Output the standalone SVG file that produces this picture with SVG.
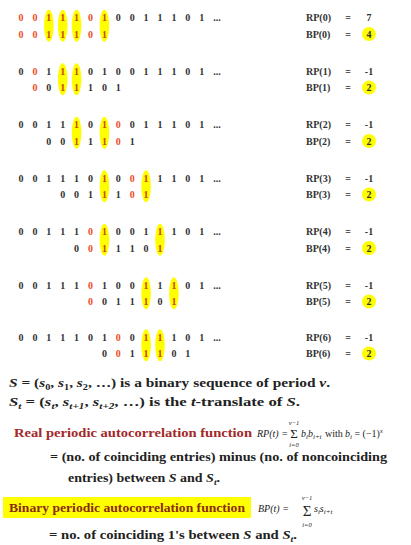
<svg xmlns="http://www.w3.org/2000/svg" width="411" height="545" viewBox="0 0 411 545">
<style>
text{font-family:"Liberation Serif","Times New Roman",serif}
.d{font-weight:bold;font-size:10px;text-anchor:middle;fill:#333}
.r{fill:#ee4b2b}
.y{fill:#cc4400}
.hl{fill:#ffff00}
.lb{font-weight:bold;font-size:10px;fill:#333}
.eq{font-weight:bold;font-size:10px;fill:#333;text-anchor:middle}
.t{font-weight:bold;font-size:13.5px;fill:#222}
.i{font-style:italic}
.sb{font-size:9px}
.f{font-style:italic;font-size:10px;fill:#222}
.fs{font-style:italic;font-size:6.5px;fill:#222;text-anchor:middle}
.sig{font-size:15px;fill:#222;text-anchor:middle}
</style>
<rect width="411" height="545" fill="#fff"/>

<g id="row0">
<ellipse class="hl" cx="48.8" cy="25.75" rx="4.8" ry="16"/><ellipse class="hl" cx="62.7" cy="25.75" rx="4.8" ry="16"/><ellipse class="hl" cx="76.6" cy="25.75" rx="4.8" ry="16"/><ellipse class="hl" cx="104.4" cy="25.75" rx="4.8" ry="16"/>
<text class="d" y="21"><tspan x="21" class="r">0</tspan><tspan x="34.9" class="r">0</tspan><tspan x="48.8" class="y">1</tspan><tspan x="62.7" class="y">1</tspan><tspan x="76.6" class="y">1</tspan><tspan x="90.5" class="r">0</tspan><tspan x="104.4" class="y">1</tspan><tspan x="118.3">0</tspan><tspan x="132.2">0</tspan><tspan x="146.1">1</tspan><tspan x="160">1</tspan><tspan x="173.9">1</tspan><tspan x="187.8">0</tspan><tspan x="201.7">1</tspan><tspan x="217">...</tspan></text>
<text class="d" y="37.5"><tspan x="21" class="r">0</tspan><tspan x="34.9" class="r">0</tspan><tspan x="48.8" class="y">1</tspan><tspan x="62.7" class="y">1</tspan><tspan x="76.6" class="y">1</tspan><tspan x="90.5" class="r">0</tspan><tspan x="104.4" class="y">1</tspan></text>
<text class="lb" x="306" y="21">RP(0)</text><text class="eq" x="348" y="21">=</text><text class="eq" x="369" y="21">7</text>
<circle class="hl" cx="369" cy="34" r="7"/>
<text class="lb" x="306" y="37.5">BP(0)</text><text class="eq" x="348" y="37.5">=</text><text class="eq" x="369" y="37.5">4</text>
</g>

<g id="row1">
<ellipse class="hl" cx="62.7" cy="79.25" rx="4.8" ry="16"/><ellipse class="hl" cx="76.6" cy="79.25" rx="4.8" ry="16"/>
<text class="d" y="74.5"><tspan x="21">0</tspan><tspan x="34.9" class="r">0</tspan><tspan x="48.8">1</tspan><tspan x="62.7" class="y">1</tspan><tspan x="76.6" class="y">1</tspan><tspan x="90.5">0</tspan><tspan x="104.4">1</tspan><tspan x="118.3">0</tspan><tspan x="132.2">0</tspan><tspan x="146.1">1</tspan><tspan x="160">1</tspan><tspan x="173.9">1</tspan><tspan x="187.8">0</tspan><tspan x="201.7">1</tspan><tspan x="217">...</tspan></text>
<text class="d" y="91"><tspan x="34.9" class="r">0</tspan><tspan x="48.8">0</tspan><tspan x="62.7" class="y">1</tspan><tspan x="76.6" class="y">1</tspan><tspan x="90.5">1</tspan><tspan x="104.4">0</tspan><tspan x="118.3">1</tspan></text>
<text class="lb" x="306" y="74.5">RP(1)</text><text class="eq" x="348" y="74.5">=</text><text class="eq" x="369" y="74.5">-1</text>
<circle class="hl" cx="369" cy="87.5" r="7"/>
<text class="lb" x="306" y="91">BP(1)</text><text class="eq" x="348" y="91">=</text><text class="eq" x="369" y="91">2</text>
</g>

<g id="row2">
<ellipse class="hl" cx="76.6" cy="132.75" rx="4.8" ry="16"/><ellipse class="hl" cx="104.4" cy="132.75" rx="4.8" ry="16"/>
<text class="d" y="128"><tspan x="21">0</tspan><tspan x="34.9">0</tspan><tspan x="48.8">1</tspan><tspan x="62.7">1</tspan><tspan x="76.6" class="y">1</tspan><tspan x="90.5">0</tspan><tspan x="104.4" class="y">1</tspan><tspan x="118.3" class="r">0</tspan><tspan x="132.2">0</tspan><tspan x="146.1">1</tspan><tspan x="160">1</tspan><tspan x="173.9">1</tspan><tspan x="187.8">0</tspan><tspan x="201.7">1</tspan><tspan x="217">...</tspan></text>
<text class="d" y="144.5"><tspan x="48.8">0</tspan><tspan x="62.7">0</tspan><tspan x="76.6" class="y">1</tspan><tspan x="90.5">1</tspan><tspan x="104.4" class="y">1</tspan><tspan x="118.3" class="r">0</tspan><tspan x="132.2">1</tspan></text>
<text class="lb" x="306" y="128">RP(2)</text><text class="eq" x="348" y="128">=</text><text class="eq" x="369" y="128">-1</text>
<circle class="hl" cx="369" cy="141" r="7"/>
<text class="lb" x="306" y="144.5">BP(2)</text><text class="eq" x="348" y="144.5">=</text><text class="eq" x="369" y="144.5">2</text>
</g>

<g id="row3">
<ellipse class="hl" cx="104.4" cy="186.25" rx="4.8" ry="16"/><ellipse class="hl" cx="146.1" cy="186.25" rx="4.8" ry="16"/>
<text class="d" y="181.5"><tspan x="21">0</tspan><tspan x="34.9">0</tspan><tspan x="48.8">1</tspan><tspan x="62.7">1</tspan><tspan x="76.6">1</tspan><tspan x="90.5">0</tspan><tspan x="104.4" class="y">1</tspan><tspan x="118.3">0</tspan><tspan x="132.2" class="r">0</tspan><tspan x="146.1" class="y">1</tspan><tspan x="160">1</tspan><tspan x="173.9">1</tspan><tspan x="187.8">0</tspan><tspan x="201.7">1</tspan><tspan x="217">...</tspan></text>
<text class="d" y="198"><tspan x="62.7">0</tspan><tspan x="76.6">0</tspan><tspan x="90.5">1</tspan><tspan x="104.4" class="y">1</tspan><tspan x="118.3">1</tspan><tspan x="132.2" class="r">0</tspan><tspan x="146.1" class="y">1</tspan></text>
<text class="lb" x="306" y="181.5">RP(3)</text><text class="eq" x="348" y="181.5">=</text><text class="eq" x="369" y="181.5">-1</text>
<circle class="hl" cx="369" cy="194.5" r="7"/>
<text class="lb" x="306" y="198">BP(3)</text><text class="eq" x="348" y="198">=</text><text class="eq" x="369" y="198">2</text>
</g>

<g id="row4">
<ellipse class="hl" cx="104.4" cy="239.75" rx="4.8" ry="16"/><ellipse class="hl" cx="160" cy="239.75" rx="4.8" ry="16"/>
<text class="d" y="235"><tspan x="21">0</tspan><tspan x="34.9">0</tspan><tspan x="48.8">1</tspan><tspan x="62.7">1</tspan><tspan x="76.6">1</tspan><tspan x="90.5" class="r">0</tspan><tspan x="104.4" class="y">1</tspan><tspan x="118.3">0</tspan><tspan x="132.2">0</tspan><tspan x="146.1">1</tspan><tspan x="160" class="y">1</tspan><tspan x="173.9">1</tspan><tspan x="187.8">0</tspan><tspan x="201.7">1</tspan><tspan x="217">...</tspan></text>
<text class="d" y="251.5"><tspan x="76.6">0</tspan><tspan x="90.5" class="r">0</tspan><tspan x="104.4" class="y">1</tspan><tspan x="118.3">1</tspan><tspan x="132.2">1</tspan><tspan x="146.1">0</tspan><tspan x="160" class="y">1</tspan></text>
<text class="lb" x="306" y="235">RP(4)</text><text class="eq" x="348" y="235">=</text><text class="eq" x="369" y="235">-1</text>
<circle class="hl" cx="369" cy="248" r="7"/>
<text class="lb" x="306" y="251.5">BP(4)</text><text class="eq" x="348" y="251.5">=</text><text class="eq" x="369" y="251.5">2</text>
</g>

<g id="row5">
<ellipse class="hl" cx="146.1" cy="293.25" rx="4.8" ry="16"/><ellipse class="hl" cx="173.9" cy="293.25" rx="4.8" ry="16"/>
<text class="d" y="288.5"><tspan x="21">0</tspan><tspan x="34.9">0</tspan><tspan x="48.8">1</tspan><tspan x="62.7">1</tspan><tspan x="76.6">1</tspan><tspan x="90.5" class="r">0</tspan><tspan x="104.4">1</tspan><tspan x="118.3">0</tspan><tspan x="132.2">0</tspan><tspan x="146.1" class="y">1</tspan><tspan x="160">1</tspan><tspan x="173.9" class="y">1</tspan><tspan x="187.8">0</tspan><tspan x="201.7">1</tspan><tspan x="217">...</tspan></text>
<text class="d" y="305"><tspan x="90.5" class="r">0</tspan><tspan x="104.4">0</tspan><tspan x="118.3">1</tspan><tspan x="132.2">1</tspan><tspan x="146.1" class="y">1</tspan><tspan x="160">0</tspan><tspan x="173.9" class="y">1</tspan></text>
<text class="lb" x="306" y="288.5">RP(5)</text><text class="eq" x="348" y="288.5">=</text><text class="eq" x="369" y="288.5">-1</text>
<circle class="hl" cx="369" cy="301.5" r="7"/>
<text class="lb" x="306" y="305">BP(5)</text><text class="eq" x="348" y="305">=</text><text class="eq" x="369" y="305">2</text>
</g>

<g id="row6">
<ellipse class="hl" cx="146.1" cy="345.25" rx="4.8" ry="16"/><ellipse class="hl" cx="160" cy="345.25" rx="4.8" ry="16"/>
<text class="d" y="340.5"><tspan x="21">0</tspan><tspan x="34.9">0</tspan><tspan x="48.8">1</tspan><tspan x="62.7">1</tspan><tspan x="76.6">1</tspan><tspan x="90.5">0</tspan><tspan x="104.4">1</tspan><tspan x="118.3" class="r">0</tspan><tspan x="132.2">0</tspan><tspan x="146.1" class="y">1</tspan><tspan x="160" class="y">1</tspan><tspan x="173.9">1</tspan><tspan x="187.8">0</tspan><tspan x="201.7">1</tspan><tspan x="217">...</tspan></text>
<text class="d" y="357"><tspan x="104.4">0</tspan><tspan x="118.3" class="r">0</tspan><tspan x="132.2">1</tspan><tspan x="146.1" class="y">1</tspan><tspan x="160" class="y">1</tspan><tspan x="173.9">0</tspan><tspan x="187.8">1</tspan></text>
<text class="lb" x="306" y="340.5">RP(6)</text><text class="eq" x="348" y="340.5">=</text><text class="eq" x="369" y="340.5">-1</text>
<circle class="hl" cx="369" cy="353.5" r="7"/>
<text class="lb" x="306" y="357">BP(6)</text><text class="eq" x="348" y="357">=</text><text class="eq" x="369" y="357">2</text>
</g>

<g id="definitions">
<text class="t" x="9" y="387" textLength="321" lengthAdjust="spacingAndGlyphs"><tspan class="i">S</tspan> = (<tspan class="i">s</tspan><tspan class="sb" dy="3">0</tspan><tspan dy="-3">, </tspan><tspan class="i">s</tspan><tspan class="sb" dy="3">1</tspan><tspan dy="-3">, </tspan><tspan class="i">s</tspan><tspan class="sb" dy="3">2</tspan><tspan dy="-3">, …) is a binary sequence of period </tspan><tspan class="i">v</tspan>.</text>
<text class="t" x="9" y="406" textLength="291" lengthAdjust="spacingAndGlyphs"><tspan class="i">S</tspan><tspan class="sb i" dy="3">t</tspan><tspan dy="-3"> = (</tspan><tspan class="i">s</tspan><tspan class="sb i" dy="3">t</tspan><tspan dy="-3">, </tspan><tspan class="i">s</tspan><tspan class="sb i" dy="3">t+1</tspan><tspan dy="-3">, </tspan><tspan class="i">s</tspan><tspan class="sb i" dy="3">t+2</tspan><tspan dy="-3">, …) is the </tspan><tspan class="i">t</tspan>-translate of <tspan class="i">S</tspan>.</text>
</g>

<g id="real-func">
<text class="t" x="14" y="437" style="fill:#a3282a" textLength="238" lengthAdjust="spacingAndGlyphs">Real periodic autocorrelation function</text>
<text class="f" x="257" y="437">RP(t) =</text>
<text class="sig" x="294" y="438" style="font-size:13px">Σ</text>
<text class="fs" x="294" y="425">v−1</text>
<text class="fs" x="294" y="447">i=0</text>
<text class="f" x="301" y="437">b<tspan font-size="7" dy="2">i</tspan><tspan dy="-2">b</tspan><tspan font-size="7" dy="2">i+t</tspan></text>
<text class="f" x="325" y="437" style="font-style:normal">with</text>
<text class="f" x="345" y="437">b<tspan font-size="7" dy="2">i</tspan><tspan dy="-2" style="font-style:normal"> = (−1)</tspan><tspan font-size="7" dy="-4">s</tspan></text>
<text class="t" x="50" y="460.5" textLength="337" lengthAdjust="spacingAndGlyphs">= (no. of coinciding entries) minus (no. of noncoinciding</text>
<text class="t" x="68" y="482" textLength="152" lengthAdjust="spacingAndGlyphs">entries) between <tspan class="i">S</tspan> and <tspan class="i">S</tspan><tspan class="sb i" dy="3">t</tspan><tspan dy="-3">.</tspan></text>
</g>

<g id="binary-func">
<rect x="3" y="497" width="248" height="21" fill="#ffff00"/>
<text class="t" x="9" y="512" style="fill:#8b2a10" textLength="236" lengthAdjust="spacingAndGlyphs">Binary periodic autocorrelation function</text>
<text class="f" x="258" y="512">BP(t) =</text>
<text class="sig" x="307" y="516">Σ</text>
<text class="fs" x="307" y="500">v−1</text>
<text class="fs" x="307" y="527">i=0</text>
<text class="f" x="314" y="512">s<tspan font-size="7" dy="2">i</tspan><tspan dy="-2">s</tspan><tspan font-size="7" dy="2">i+t</tspan></text>
<text class="t" x="49" y="539" textLength="248" lengthAdjust="spacingAndGlyphs">= no. of coinciding 1's between <tspan class="i">S</tspan> and <tspan class="i">S</tspan><tspan class="sb i" dy="3">t</tspan><tspan dy="-3">.</tspan></text>
</g>
</svg>
